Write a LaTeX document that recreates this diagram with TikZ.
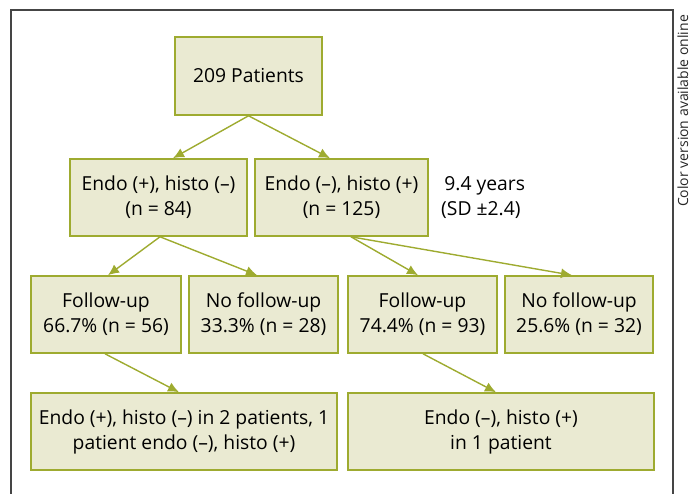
\documentclass[tikz,border=0pt]{standalone}
\usepackage{fontspec}
\setmainfont{Open Sans}
\usetikzlibrary{arrows.meta,calc}
\definecolor{boxfill}{HTML}{EAEAD2}
\definecolor{olive}{HTML}{9EAB30}
\definecolor{framegray}{HTML}{454545}
\begin{document}
\begin{tikzpicture}[x=1pt,y=-1pt,
  box/.style={draw=olive,fill=boxfill,line width=1.6pt,align=center,inner sep=0pt,
    minimum height=77pt,font=\fontsize{19.3}{25}\selectfont},
  arr/.style={draw=olive,line width=1.4pt,-{Latex[length=11pt,width=10pt]}},
  note/.style={font=\fontsize{19.3}{25}\selectfont,align=left,inner sep=0pt}]
\useasboundingbox (0,0) rectangle (691,494);
\draw[framegray,line width=1.5pt] (11,494) -- (11,10) -- (673,10) -- (673,494);
\node[font=\fontsize{14}{16}\selectfont,rotate=90,inner sep=0pt,outer sep=0pt,text=black!85,anchor=base] (cv) at (688,111) {Color version available online};

\node[box,minimum width=147pt,minimum height=78pt] (top) at (248.5,76) {209 Patients};
\node[box,minimum width=177pt] (L) at (158.5,197.5) {Endo (+), histo (–)\\(n = 84)};
\node[box,minimum width=173pt] (R) at (341.5,197.5) {Endo (–), histo (+)\\(n = 125)};
\node[note,anchor=west] (yrs) at (441,197.5) {\,9.4 years\\(SD ±2.4)};

\node[box,minimum width=150pt] (A) at (106,314.5) {Follow-up\\66.7\% (n = 56)};
\node[box,minimum width=149pt] (B) at (263.5,314.5) {No follow-up\\33.3\% (n = 28)};
\node[box,minimum width=149pt] (C) at (422.5,314.5) {Follow-up\\74.4\% (n = 93)};
\node[box,minimum width=148pt] (D) at (579,314.5) {No follow-up\\25.6\% (n = 32)};

\node[box,minimum width=306pt] (E) at (184,431.5) {Endo (+), histo (–) in 2 patients, 1\\patient endo (–), histo (+)};
\node[box,minimum width=306pt] (F) at (501,431.5) {Endo (–), histo (+)\\in 1 patient};

\draw[arr] (top.south) -- ([xshift=14.5pt]L.north);
\draw[arr] (top.south) -- ([xshift=-11.5pt]R.north);
\draw[arr] ([xshift=1.5pt]L.south) -- ([xshift=2pt]A.north);
\draw[arr] ([xshift=1.5pt]L.south) -- ([xshift=-6.5pt]B.north);
\draw[arr] ([xshift=9.5pt]R.south) -- ([xshift=-4.5pt]C.north);
\draw[arr] ([xshift=9.5pt]R.south) -- ([xshift=-7pt]D.north);
\draw[arr] ([xshift=-1pt]A.south) -- ([xshift=-5pt]E.north);
\draw[arr] ([xshift=0.5pt]C.south) -- ([xshift=-5pt]F.north);
\end{tikzpicture}
\end{document}
